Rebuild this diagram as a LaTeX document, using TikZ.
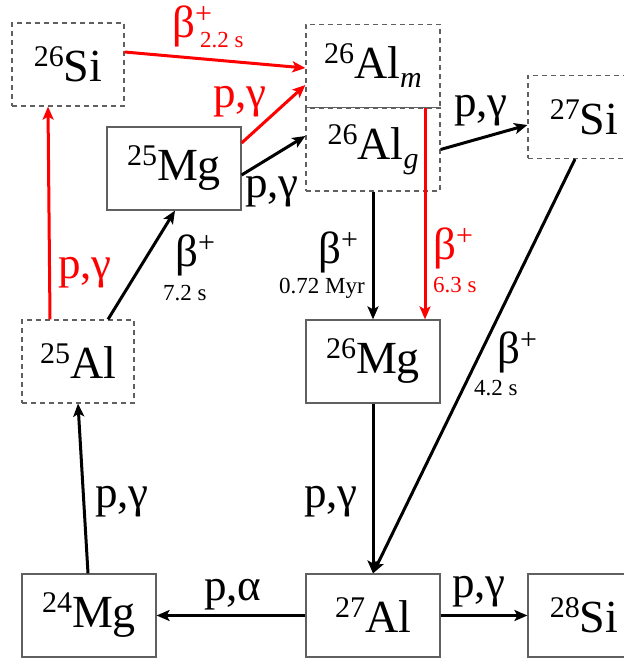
\documentclass[tikz,border=0pt]{standalone}
\usepackage{amsmath}
\usepackage{fontspec}
\setmainfont{Liberation Serif}
\newfontfamily\isofont{Liberation Serif}
\usetikzlibrary{arrows.meta}
\definecolor{decayred}{HTML}{FF0000}
\definecolor{boxgray}{HTML}{606060}
\newcommand{\iso}[2]{{\fontsize{30}{30}\selectfont\raisebox{15pt}{#1}}#2}
\newcommand{\lowsub}[1]{{\fontsize{30}{30}\selectfont\raisebox{-9pt}{\itshape #1}}}
\newcommand{\bplus}{β\raisebox{14pt}{\fontsize{30}{30}\selectfont +}}
\tikzset{
  isobox/.style={draw=boxgray,line width=1.2pt,minimum width=134pt,minimum height=83pt,inner sep=0pt,font=\isofont\fontsize{46}{50}\selectfont},
  shortbox/.style={isobox,minimum width=112pt},
  unstable/.style={dash pattern=on 5pt off 4pt},
  reacarrow/.style={-{Stealth[length=13pt,width=11pt,inset=3pt]},line width=3pt},
  redarrow/.style={reacarrow,draw=decayred},
  reaclabel/.style={inner sep=0pt,anchor=base west,font=\isofont\fontsize{45}{48}\selectfont},
  halflife/.style={inner sep=0pt,anchor=base west,font=\isofont\fontsize{23}{24}\selectfont},
}
\begin{document}
\begin{tikzpicture}[x=1pt,y=-1pt]
  \useasboundingbox (0,0) rectangle (623,660);
  \node[shortbox,unstable] (si26) at (68,64.5) {\iso{26}{Si}};
  \node[isobox,unstable] (alm) at (373,66) {\iso{26}{Al}\lowsub{m}};
  \node[isobox,unstable] (alg) at (373,149.5) {\iso{26}{Al}\lowsub{g}};
  \node[isobox] (mg25) at (174,168.5) {\iso{25}{Mg}};
  \node[shortbox,unstable] (si27) at (584,117) {\iso{27}{Si}};
  \node[shortbox,unstable] (al25) at (78,361.5) {\iso{25}{Al}};
  \node[isobox] (mg26) at (373,361.5) {\iso{26}{Mg}};
  \node[isobox] (mg24) at (89,615.5) {\iso{24}{Mg}};
  \node[isobox] (al27) at (373,615.5) {\iso{27}{Al}};
  \node[shortbox] (si28) at (584,615.5) {\iso{28}{Si}};

  \draw[redarrow] ([yshift=12.5pt]si26.east) -- ([yshift=-2pt]alm.west);
  \draw[redarrow] ([yshift=25.5pt]mg25.east) -- ([yshift=-19pt]alm.west);
  \draw[reacarrow] ([yshift=-6.5pt]mg25.east) -- ([yshift=13.5pt]alg.west);
  \draw[reacarrow] (alg.east) -- ([yshift=-8pt]si27.west);
  \draw[reacarrow] (alg.south) -- (mg26.north);
  \draw[redarrow] ([xshift=52pt]alm.south) -- ([xshift=52pt]mg26.north);
  \draw[reacarrow] ([xshift=-9pt]si27.south) -- (al27.north);
  \draw[reacarrow] (mg26.south) -- (al27.north);
  \draw[reacarrow] (al27.west) -- (mg24.east);
  \draw[reacarrow] (al27.east) -- (si28.west);
  \draw[reacarrow] ([xshift=-1pt]mg24.north) -- (al25.south);
  \draw[reacarrow] ([xshift=30pt]al25.north) -- ([xshift=1pt]mg25.south);
  \draw[redarrow] ([xshift=-28pt]al25.north) -- ([xshift=-20pt]si26.south);

  \node[reaclabel,text=decayred] (b1) at (172,38) {\bplus};
  \node[halflife,text=decayred] (t1) at (200,48) {2.2 s};
  \node[reaclabel,text=decayred] (r1) at (213,108) {p,γ};
  \node[reaclabel] (r2) at (245,197) {p,γ};
  \node[reaclabel] (r3) at (454,117) {p,γ};
  \node[reaclabel] (b2) at (318,263) {\bplus};
  \node[halflife] (t2) at (279,293) {0.72 Myr};
  \node[reaclabel,text=decayred] (b3) at (433,259) {\bplus};
  \node[halflife,text=decayred] (t3) at (433,292) {6.3 s};
  \node[reaclabel] (b4) at (497,363) {\bplus};
  \node[halflife] (t4) at (474,395) {4.2 s};
  \node[reaclabel] (b5) at (175,266) {\bplus};
  \node[halflife] (t5) at (163,300) {7.2 s};
  \node[reaclabel,text=decayred] (r4) at (58,278) {p,γ};
  \node[reaclabel] (r5) at (95,507) {p,γ};
  \node[reaclabel] (r6) at (304,507) {p,γ};
  \node[reaclabel] (r7) at (204,600) {p,α};
  \node[reaclabel] (r8) at (452,597) {p,γ};
\end{tikzpicture}
\end{document}
